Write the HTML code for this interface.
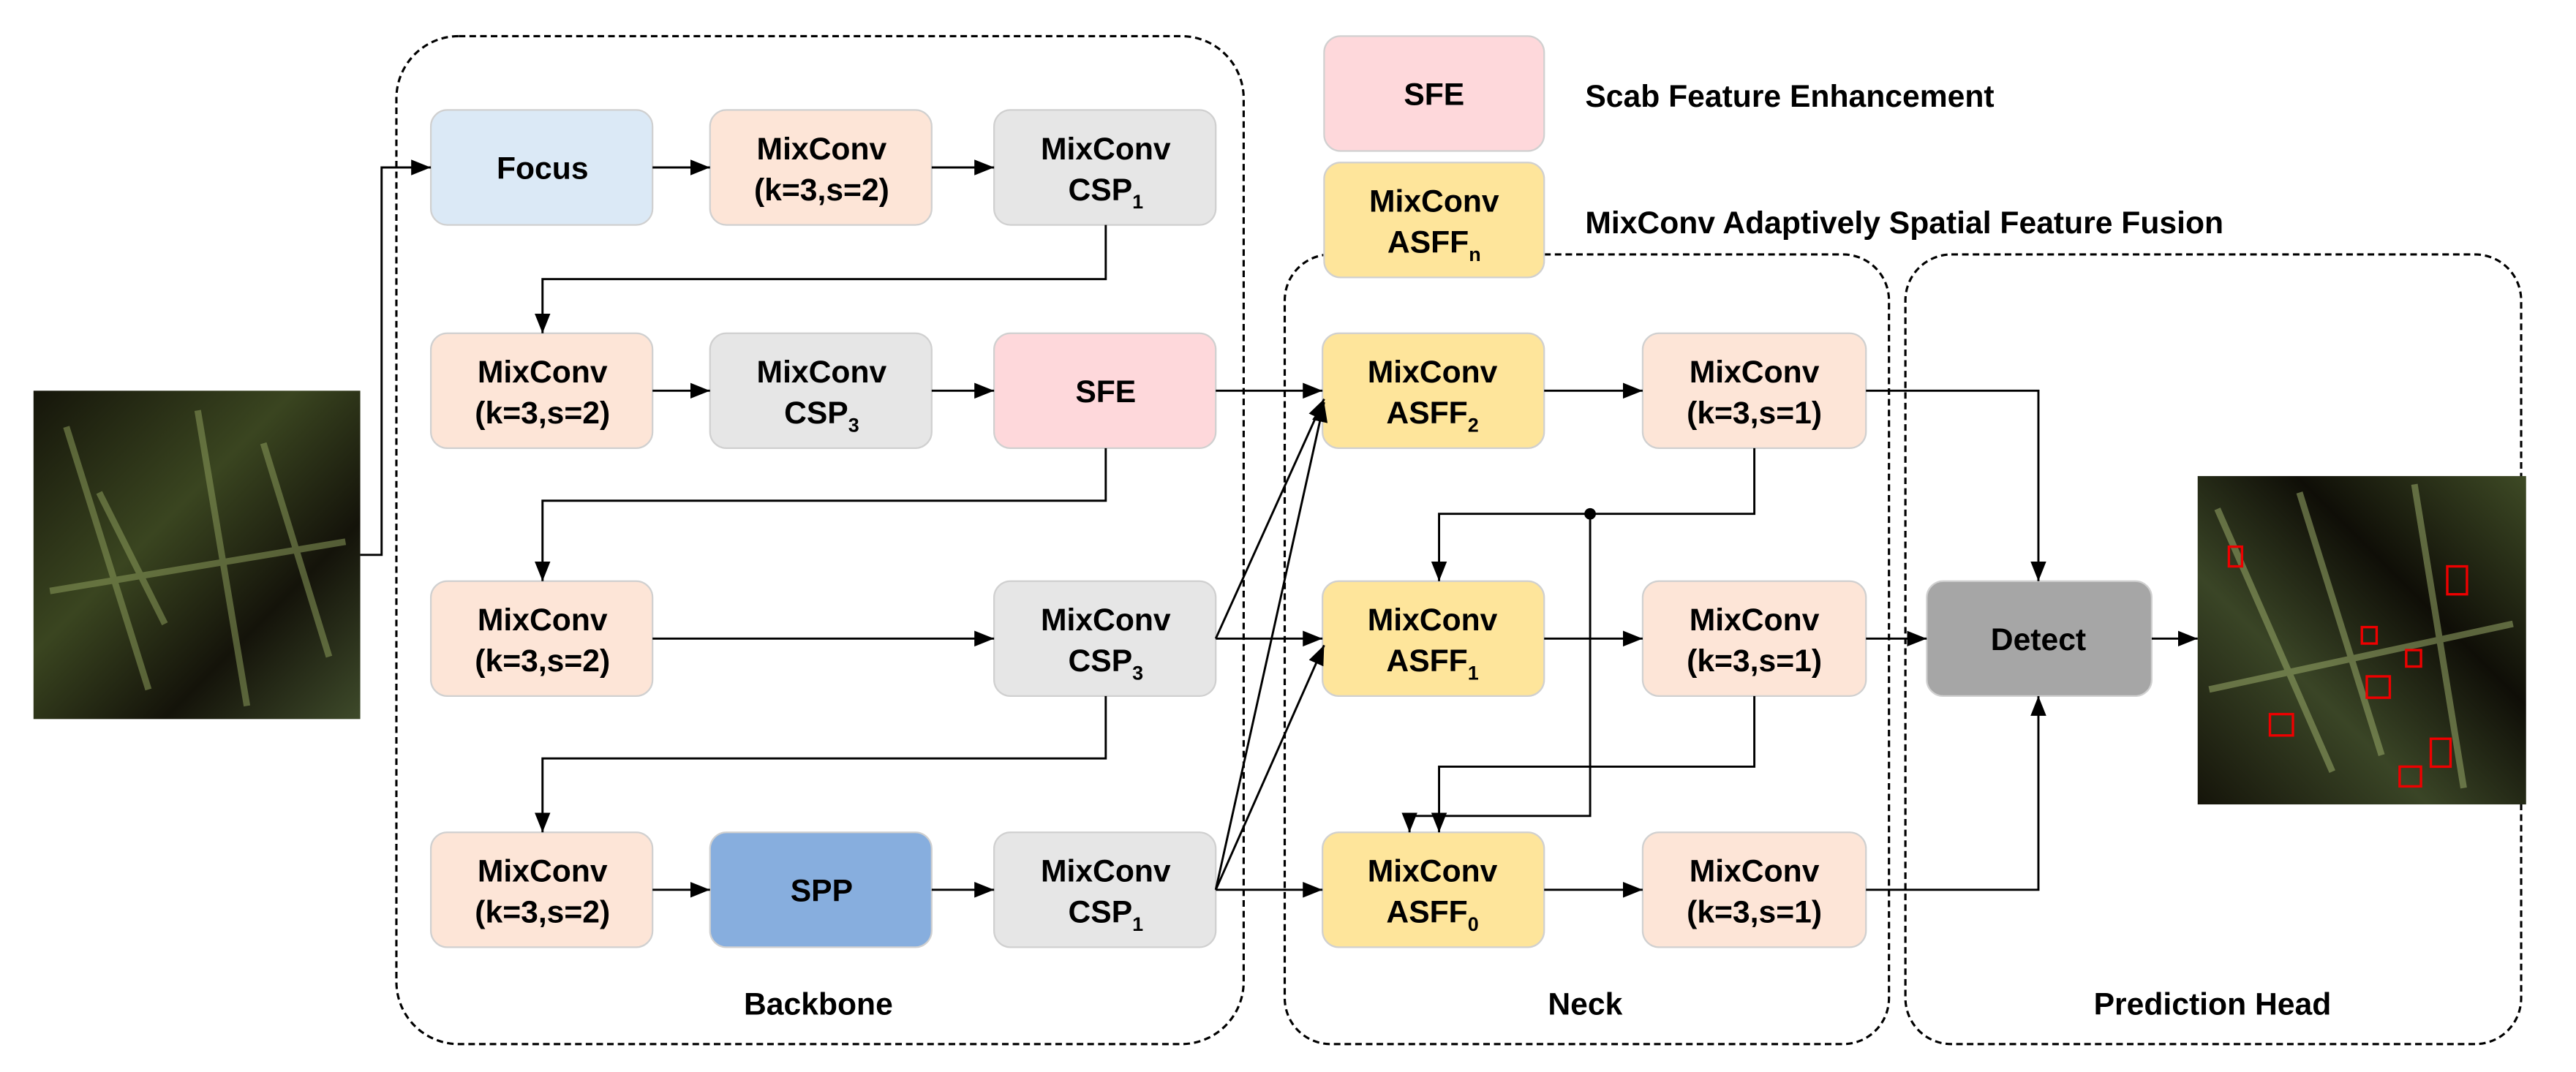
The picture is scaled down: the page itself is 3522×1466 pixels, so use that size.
<!DOCTYPE html>
<html><head><meta charset="utf-8"><style>
html,body{margin:0;padding:0;background:#fff}
svg{display:block}
text{font-family:"Liberation Sans",Arial,sans-serif;font-weight:bold;fill:#000}
</style></head><body>
<svg width="3522" height="1466" viewBox="0 0 1568 653" xmlns="http://www.w3.org/2000/svg">
<defs>
<marker id="b" viewBox="0 0 10 10" refX="10" refY="5" markerWidth="12" markerHeight="12" orient="auto" markerUnits="userSpaceOnUse"><path d="M0,1 L10,5 L0,9 z" fill="#000"/></marker>
<linearGradient id="g1" x1="0" y1="0" x2="1" y2="1"><stop offset="0" stop-color="#15150a"/><stop offset="0.4" stop-color="#3a4520"/><stop offset="0.7" stop-color="#14130a"/><stop offset="1" stop-color="#3e4a2a"/></linearGradient>
<linearGradient id="g2" x1="1" y1="0" x2="0" y2="1"><stop offset="0" stop-color="#3e4a25"/><stop offset="0.35" stop-color="#0f0e07"/><stop offset="0.65" stop-color="#3a4526"/><stop offset="1" stop-color="#15140a"/></linearGradient>
</defs>
<g fill="none" stroke="#000" stroke-width="1.4" stroke-dasharray="4,2.5">
<rect x="241" y="22" width="516" height="614" rx="38"/>
<rect x="782" y="155" width="368" height="481" rx="28"/>
<rect x="1160" y="155" width="375" height="481" rx="28"/>
</g>
<rect x="20" y="238" width="199" height="200" fill="url(#g1)"/>
<g stroke="#8a9a5a" stroke-width="4" opacity="0.55" fill="none"><path d="M40,260 L90,420"/><path d="M120,250 L150,430"/><path d="M160,270 L200,400"/><path d="M30,360 L210,330"/><path d="M60,300 L100,380"/></g>
<rect x="1338" y="290" width="200" height="200" fill="url(#g2)"/>
<g stroke="#98a868" stroke-width="4" opacity="0.55" fill="none"><path d="M1350,310 L1420,470"/><path d="M1470,295 L1500,480"/><path d="M1345,420 L1530,380"/><path d="M1400,300 L1450,460"/></g>
<g fill="none" stroke="#e00" stroke-width="1.5">
<rect x="1357" y="333" width="8" height="12"/><rect x="1490" y="345" width="12" height="17"/><rect x="1438" y="382" width="9" height="10"/><rect x="1465" y="396" width="9" height="10"/><rect x="1441" y="412" width="14" height="13"/><rect x="1382" y="435" width="14" height="13"/><rect x="1480" y="450" width="12" height="17"/><rect x="1461" y="467" width="13" height="12"/>
</g>
<g stroke="#d0d0d0" stroke-width="1">
<rect x="262" y="67" width="135" height="70" rx="10" fill="#dbe9f6"/>
<rect x="432" y="67" width="135" height="70" rx="10" fill="#fde5d7"/>
<rect x="605" y="67" width="135" height="70" rx="10" fill="#e6e6e6"/>
<rect x="262" y="203" width="135" height="70" rx="10" fill="#fde5d7"/>
<rect x="432" y="203" width="135" height="70" rx="10" fill="#e6e6e6"/>
<rect x="605" y="203" width="135" height="70" rx="10" fill="#fed8db"/>
<rect x="262" y="354" width="135" height="70" rx="10" fill="#fde5d7"/>
<rect x="605" y="354" width="135" height="70" rx="10" fill="#e6e6e6"/>
<rect x="262" y="507" width="135" height="70" rx="10" fill="#fde5d7"/>
<rect x="432" y="507" width="135" height="70" rx="10" fill="#87aede"/>
<rect x="605" y="507" width="135" height="70" rx="10" fill="#e6e6e6"/>
<rect x="805" y="203" width="135" height="70" rx="10" fill="#fee59b"/>
<rect x="805" y="354" width="135" height="70" rx="10" fill="#fee59b"/>
<rect x="805" y="507" width="135" height="70" rx="10" fill="#fee59b"/>
<rect x="1000" y="203" width="136" height="70" rx="10" fill="#fde5d7"/>
<rect x="1000" y="354" width="136" height="70" rx="10" fill="#fde5d7"/>
<rect x="1000" y="507" width="136" height="70" rx="10" fill="#fde5d7"/>
<rect x="1173" y="354" width="137" height="70" rx="10" fill="#a6a6a6"/>
<rect x="806" y="22" width="134" height="70" rx="10" fill="#fed8db"/>
<rect x="806" y="99" width="134" height="70" rx="10" fill="#fee59b"/>
</g>
<g font-size="19" text-anchor="middle">
<text x="330" y="109">Focus</text>
<text x="500" y="97">MixConv</text><text x="500" y="122">(k=3,s=2)</text>
<text x="673" y="97">MixConv</text><text x="673" y="122">CSP<tspan font-size="12" dy="5">1</tspan></text>
<text x="330" y="233">MixConv</text><text x="330" y="258">(k=3,s=2)</text>
<text x="500" y="233">MixConv</text><text x="500" y="258">CSP<tspan font-size="12" dy="5">3</tspan></text>
<text x="673" y="245">SFE</text>
<text x="330" y="384">MixConv</text><text x="330" y="409">(k=3,s=2)</text>
<text x="673" y="384">MixConv</text><text x="673" y="409">CSP<tspan font-size="12" dy="5">3</tspan></text>
<text x="330" y="537">MixConv</text><text x="330" y="562">(k=3,s=2)</text>
<text x="500" y="549">SPP</text>
<text x="673" y="537">MixConv</text><text x="673" y="562">CSP<tspan font-size="12" dy="5">1</tspan></text>
<text x="872" y="233">MixConv</text><text x="872" y="258">ASFF<tspan font-size="12" dy="5">2</tspan></text>
<text x="872" y="384">MixConv</text><text x="872" y="409">ASFF<tspan font-size="12" dy="5">1</tspan></text>
<text x="872" y="537">MixConv</text><text x="872" y="562">ASFF<tspan font-size="12" dy="5">0</tspan></text>
<text x="1068" y="233">MixConv</text><text x="1068" y="258">(k=3,s=1)</text>
<text x="1068" y="384">MixConv</text><text x="1068" y="409">(k=3,s=1)</text>
<text x="1068" y="537">MixConv</text><text x="1068" y="562">(k=3,s=1)</text>
<text x="1241" y="396">Detect</text>
<text x="873" y="64">SFE</text>
<text x="873" y="129">MixConv</text><text x="873" y="154">ASFF<tspan font-size="12" dy="5">n</tspan></text>
<text x="498" y="618">Backbone</text>
<text x="965" y="618">Neck</text>
<text x="1347" y="618">Prediction Head</text>
</g>
<g font-size="19"><text x="965" y="65">Scab Feature Enhancement</text><text x="965" y="142">MixConv Adaptively Spatial Feature Fusion</text></g>
<g fill="none" stroke="#000" stroke-width="1.3" marker-end="url(#b)">
<path d="M219,338 H232 V102 H262"/>
<path d="M397,102 H432"/><path d="M567,102 H605"/>
<path d="M673,137 V170 H330 V203"/>
<path d="M397,238 H432"/><path d="M567,238 H605"/>
<path d="M673,273 V305 H330 V354"/>
<path d="M397,389 H605"/>
<path d="M673,424 V462 H330 V507"/>
<path d="M397,542 H432"/><path d="M567,542 H605"/>
<path d="M740,238 H805"/>
<path d="M740,389 L806,243"/>
<path d="M740,389 H805"/>
<path d="M740,542 L806,245"/>
<path d="M740,542 L806,393"/>
<path d="M740,542 H805"/>
<path d="M940,238 H1000"/><path d="M940,389 H1000"/><path d="M940,542 H1000"/>
<path d="M1136,238 H1241 V354"/>
<path d="M1136,389 H1173"/>
<path d="M1136,542 H1241 V424"/>
<path d="M1068,273 V313 H876 V354"/>
<path d="M968,313 V497 H858 V507"/>
<path d="M1068,424 V467 H876 V507"/>
<path d="M1310,389 H1338"/>
</g>
<circle cx="968" cy="313" r="3.5" fill="#000"/>
</svg>
</body></html>
